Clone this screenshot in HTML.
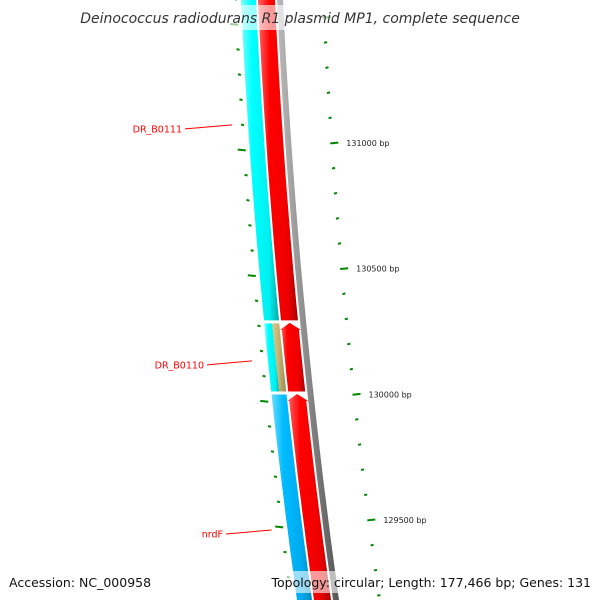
<!DOCTYPE html>
<html><head><meta charset="utf-8"><style>
html,body{margin:0;padding:0;background:#fff;overflow:hidden;width:600px;height:600px;}
svg{display:block;font-family:"DejaVu Sans","Liberation Sans",sans-serif;overflow:hidden;}
</style></head><body>
<svg id="c" width="600" height="600" viewBox="0 0 600 600">
<defs>
<clipPath id="frame"><rect x="0" y="0" width="600" height="600"/></clipPath>
<linearGradient id="gCyan" x1="0" x2="1" y1="0" y2="0"><stop offset="0" stop-color="#7ff"/><stop offset="0.3" stop-color="#0ff"/><stop offset="0.75" stop-color="#0ee"/><stop offset="1" stop-color="#0aa"/></linearGradient>
<linearGradient id="gBlue" x1="0" x2="1" y1="0" y2="0"><stop offset="0" stop-color="#6df"/><stop offset="0.3" stop-color="#0bf"/><stop offset="0.75" stop-color="#0ae"/><stop offset="1" stop-color="#08b"/></linearGradient>
<linearGradient id="gRed" x1="0" x2="1" y1="0" y2="0"><stop offset="0" stop-color="#f66"/><stop offset="0.3" stop-color="#f00"/><stop offset="0.75" stop-color="#e00"/><stop offset="1" stop-color="#a00"/></linearGradient>
<linearGradient id="gGray" x1="0" x2="1" y1="0" y2="0"><stop offset="0" stop-color="#bbb"/><stop offset="0.5" stop-color="#888"/><stop offset="1" stop-color="#555"/></linearGradient>
<linearGradient id="gTan" x1="0" x2="1" y1="0" y2="0"><stop offset="0" stop-color="#ddc98a"/><stop offset="0.5" stop-color="#c4b070"/><stop offset="1" stop-color="#9a8850"/></linearGradient>
</defs>
<g id="layer" clip-path="url(#frame)"></g>
</svg>
<script>
const tickLabels = [131000, 130500, 130000, 129500];
const geneNames = ["DR_B0111", "DR_B0110", "nrdF"];
const geneStarts = [131600, 130288, 130005];
const geneEnds = [130288, 130005, 129100];
const geneFill = ["url(#gCyan)", "url(#gTan)", "url(#gBlue)"];
const cdsStarts = [131600, 130288, 130005];
const cdsEnds = [130288, 130005, 129100];
const labelBp = [131072, 130133, 129460];

const NS = "http://www.w3.org/2000/svg";
const layer = document.getElementById('layer');
function yOf(bp){ return 143 + (131000 - bp) * 0.2513; }
function x0(y){ return 241 + 0.0467*y + 7.78e-5*y*y; }
function mk(tag, attrs){ const e=document.createElementNS(NS,tag); for(const k in attrs) e.setAttribute(k,attrs[k]); layer.appendChild(e); return e; }
function edge(y1,y2,o){
  const pts=[]; const n=20;
  for(let i=0;i<=n;i++){const y=y1+(y2-y1)*i/n; pts.push((x0(y)+o).toFixed(1)+','+y.toFixed(1));}
  return pts;
}
function band(y1,y2,o1,o2){
  y1=Math.max(-5,Math.min(600,y1)); y2=Math.max(-5,Math.min(600,y2));
  return edge(y1,y2,o1).concat(edge(y2,y1,o2)).join(' ');
}
let e = mk('polygon',{points:band(-5,600,36,42),fill:'url(#gGray)'});


for(let i=0;i<geneNames.length;i++){
  const ya=yOf(geneStarts[i])+1.5, yb=yOf(geneEnds[i])-1.5;
  if(i===1){
    e=mk('polygon',{points:band(ya,yb,0,8),fill:'url(#gCyan)'});
    
    
    e=mk('polygon',{points:band(ya,yb,8,15),fill:geneFill[i]});
  } else {
    e=mk('polygon',{points:band(ya,yb,0,15),fill:geneFill[i]});
  }
  
  
}
for(let i=0;i<cdsStarts.length;i++){
  const ya=Math.max(-5,yOf(cdsStarts[i])), yb=Math.min(600,yOf(cdsEnds[i])-1.5);
  let pts;
  if(i===0){ pts=band(ya,yb,17,34); }
  else {
    const tip=ya+1, base=ya+8;
    const head=[(x0(base)+36).toFixed(1)+','+base, (x0(tip)+25.5).toFixed(1)+','+tip, (x0(base)+15).toFixed(1)+','+base];
    pts=head.concat(edge(base,yb,17)).concat(edge(yb,base,34)).join(' ');
  }
  e=mk('polygon',{points:pts,fill:'url(#gRed)'});
  
  
}
for(let bp=131600; bp>=129000; bp-=100){
  const y=yOf(bp); const major = bp%500===0;
  const len = major?8:3;
  const yl=y+7;
  e=mk('line',{x1:x0(yl)-4-len,y1:yl-0.4,x2:x0(yl)-4,y2:yl+0.4,stroke:'#080','stroke-width':2});
  
  
  const xr=x0(y)+81;
  e=mk('line',{x1:xr,y1:y+0.4,x2:xr+len,y2:y-0.4,stroke:'#080','stroke-width':2});
  
  
}
tickLabels.forEach(bp=>{
  const y=yOf(bp);
  const t=mk('text',{x:x0(y)+97,y:y+3,'font-size':8,fill:'#222'}); t.textContent=bp+' bp';
  
  
});
geneNames.forEach((n,i)=>{
  const yl=yOf(labelBp[i]); const xe=x0(yl)-16;
  const xs = i===0?185:(i===1?207:226);
  const ln=mk('line',{x1:xs,y1:yl+4,x2:xe,y2:yl,stroke:'#f00','stroke-width':1});
  
  
  const t=mk('text',{x:xs-3,y:yl+7.5,'font-size':9.5,fill:'#f00','text-anchor':'end'}); t.textContent=n;
  
  
});
e=mk('rect',{x:82,y:5,width:436,height:25,fill:'#fff','fill-opacity':0.6});


let t=mk('text',{x:300,y:23,'font-size':14,'font-style':'italic',fill:'#333','text-anchor':'middle'});
t.textContent='Deinococcus radiodurans R1 plasmid MP1, complete sequence';


e=mk('rect',{x:282,y:571,width:314,height:22,fill:'#fff','fill-opacity':0.6});


t=mk('text',{x:9,y:587,'font-size':12.5,fill:'#111'}); t.textContent='Accession: NC_000958';


t=mk('text',{x:591,y:587,'font-size':12.5,fill:'#111','text-anchor':'end'}); t.textContent='Topology: circular; Length: 177,466 bp; Genes: 131';


</script>
</body></html>
